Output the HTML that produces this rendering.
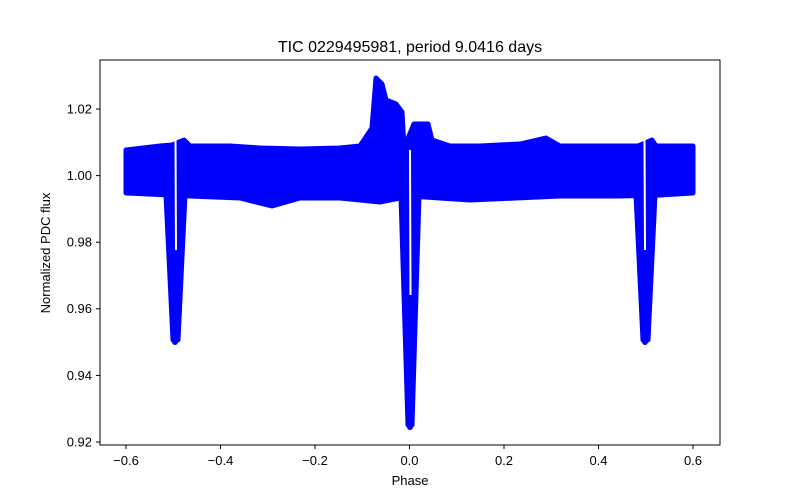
<!DOCTYPE html>
<html><head><style>body{margin:0;background:#fff}svg{display:block}text{font-family:"Liberation Sans","DejaVu Sans",sans-serif;fill:#000}</style></head>
<body>
<svg width="800" height="500" xmlns="http://www.w3.org/2000/svg">
<rect width="800" height="500" fill="#fff"/>
<g fill="#0000ff" stroke="#0000ff" stroke-width="5" stroke-linejoin="round">
<path d="M126,150 L160,146 L172,145 L184,140 L190,146 L230,146 L260,148 L300,149 L340,148 L360,146 L372,128 L376,78 L382,84 L386,100 L396,104 L402,112 L404,148 L414,124 L428,124 L432,140 L450,146 L480,146 L520,144 L546,138 L560,146 L600,146 L638,146 L652,140 L656,146 L693,146 L693,193 L660,195 L620,196 L560,196 L470,200 L440,198 L410,196 L380,202 L340,198 L300,198 L272,206 L240,198 L190,196 L126,193 Z"/>
<path d="M166,195 L185,195 L178,340 L173,340 Z"/>
<path d="M636,195 L655,195 L648,340 L643,340 Z"/>
<path d="M401,196 L419,196 L412,425 L408,425 Z"/>
</g>
<g fill="#0000ff"><circle cx="175" cy="342" r="3"/><circle cx="645" cy="342" r="3"/><circle cx="410" cy="427" r="3"/></g>
<g stroke="#fff" stroke-width="2">
<line x1="175.5" y1="140" x2="176" y2="250"/>
<line x1="644.5" y1="140" x2="645" y2="250"/>
<line x1="410" y1="150" x2="410.5" y2="295"/>
</g>
<rect x="100" y="60" width="620" height="385" fill="none" stroke="#000" stroke-width="1"/>
<g stroke="#000" stroke-width="1">
<line x1="126" y1="445" x2="126" y2="449"/><line x1="220.5" y1="445" x2="220.5" y2="449"/><line x1="315" y1="445" x2="315" y2="449"/><line x1="409.5" y1="445" x2="409.5" y2="449"/><line x1="504" y1="445" x2="504" y2="449"/><line x1="598.5" y1="445" x2="598.5" y2="449"/><line x1="693" y1="445" x2="693" y2="449"/>
<line x1="96" y1="109" x2="100" y2="109"/><line x1="96" y1="175.6" x2="100" y2="175.6"/><line x1="96" y1="242.2" x2="100" y2="242.2"/><line x1="96" y1="308.8" x2="100" y2="308.8"/><line x1="96" y1="375.4" x2="100" y2="375.4"/><line x1="96" y1="442" x2="100" y2="442"/>
</g>
<g font-size="13" text-anchor="middle">
<text x="126" y="465">−0.6</text><text x="220.5" y="465">−0.4</text><text x="315" y="465">−0.2</text><text x="409.5" y="465">0.0</text><text x="504" y="465">0.2</text><text x="598.5" y="465">0.4</text><text x="693" y="465">0.6</text>
<text x="410" y="485">Phase</text>
<text x="410" y="52" font-size="16">TIC 0229495981, period 9.0416 days</text>
</g>
<g font-size="13" text-anchor="end">
<text x="92" y="113.5">1.02</text><text x="92" y="180">1.00</text><text x="92" y="246.5">0.98</text><text x="92" y="313">0.96</text><text x="92" y="380">0.94</text><text x="92" y="446.5">0.92</text>
</g>
<text x="50" y="253" font-size="13" text-anchor="middle" transform="rotate(-90 50 253)">Normalized PDC flux</text>
</svg>
</body></html>
